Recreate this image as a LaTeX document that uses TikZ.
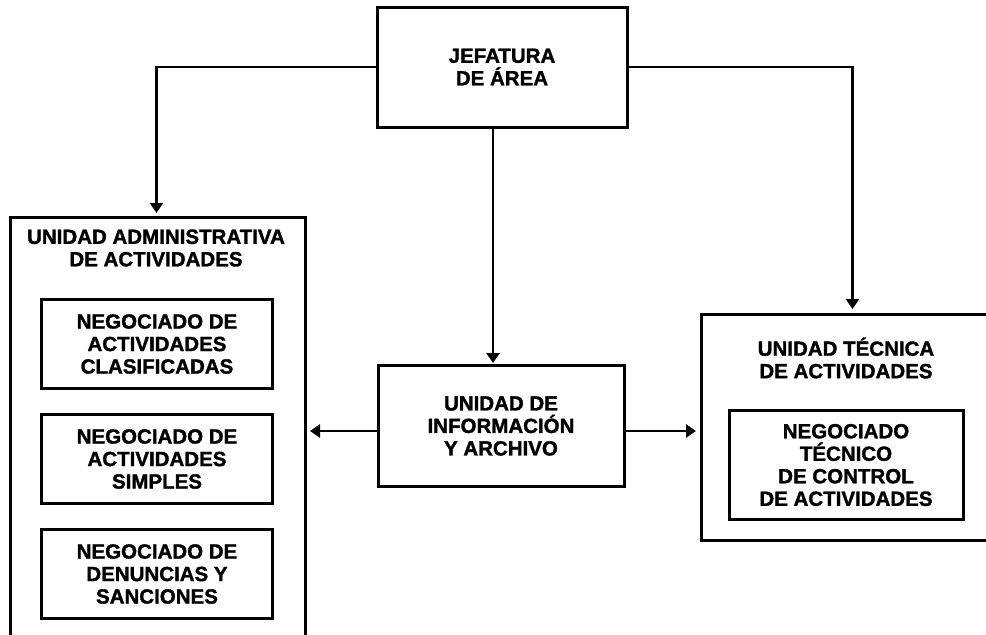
\documentclass[tikz,border=0pt]{standalone}
\usepackage{fontspec}
\setmainfont{Liberation Sans}[BoldFeatures={FakeBold=1.5}]
\usetikzlibrary{arrows.meta}

\begin{document}
\begin{tikzpicture}[
            x=1pt, y=-1pt,
            caja/.style={rectangle, draw, line width=3pt, align=center, font=\bfseries\fontsize{20.5}{22.5}\selectfont},
            marco/.style={rectangle, draw, line width=3pt, anchor=north west},
            titulo/.style={align=center, font=\bfseries\fontsize{20.5}{22.5}\selectfont},
            flecha/.style={line width=2.5pt, -{Triangle[length=10pt,width=13pt]}}
        ]
            \useasboundingbox (0,0) rectangle (986,635);
            \node(jefatura) at (502,67) [caja, minimum width=250, minimum height=120] {JEFATURA\\DE ÁREA};
            \node(informacion) at (501,426) [caja, minimum width=246, minimum height=121] {UNIDAD DE\\INFORMACIÓN\\Y ARCHIVO};
            % unidad administrativa, abierta por abajo
            \node(uadmin) at (9,216) [marco, minimum width=295, minimum height=440] {};
            \node(tadmin) at (156,248) [titulo] {UNIDAD ADMINISTRATIVA\\DE ACTIVIDADES};
            \node(nclasif) at (157,344) [caja, minimum width=231, minimum height=89] {NEGOCIADO DE\\ACTIVIDADES\\CLASIFICADAS};
            \node(nsimples) at (157,459) [caja, minimum width=231, minimum height=89] {NEGOCIADO DE\\ACTIVIDADES\\SIMPLES};
            \node(ndenuncias) at (157,574) [caja, minimum width=231, minimum height=89] {NEGOCIADO DE\\DENUNCIAS Y\\SANCIONES};
            % unidad tecnica
            \node(utecnica) at (700,313) [marco, minimum width=292, minimum height=226] {};
            \node(ttecnica) at (846,358) [titulo] {UNIDAD TÉCNICA\\DE ACTIVIDADES};
            \node(ntecnico) at (846,465) [caja, minimum width=234, minimum height=109] {NEGOCIADO\\TÉCNICO\\DE CONTROL\\DE ACTIVIDADES};
            \draw[flecha, shorten >=3pt] (jefatura.west) -| ([xshift=-1.5]uadmin.north);
            \draw[flecha, shorten >=4pt] (jefatura.east) -| ([xshift=5]utecnica.north);
            \draw[flecha, shorten >=1pt] ([xshift=-9]jefatura.south) -- ([xshift=-9]jefatura.south |- informacion.north);
            \draw[flecha, shorten >=3pt] ([yshift=-5]informacion.west) -- ([yshift=-5]informacion.west -| uadmin.east);
            \draw[flecha, shorten >=4pt] ([yshift=-5]informacion.east) -- ([yshift=-5]informacion.east -| utecnica.west);
        \end{tikzpicture}
\end{document}
